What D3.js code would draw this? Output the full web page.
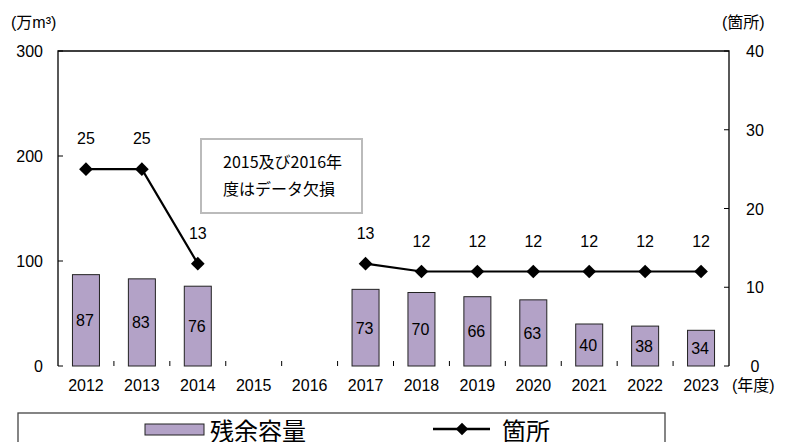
<!DOCTYPE html>
<html>
<head>
<meta charset="utf-8">
<style>
body { margin: 0; background: #fff; }
text { font-family: "Liberation Sans", "Noto Sans CJK JP", sans-serif; fill: #000; }
</style>
</head>
<body>
<script src="https://cdn.jsdelivr.net/npm/d3@7"></script>
<script>
var years = ["2012","2013","2014","2015","2016","2017","2018","2019","2020","2021","2022","2023"];
var capacity = [87, 83, 76, null, null, 73, 70, 66, 63, 40, 38, 34];
var sites = [25, 25, 13, null, null, 13, 12, 12, 12, 12, 12, 12];
var leftTicks = [0, 100, 200, 300];
var rightTicks = [0, 10, 20, 30, 40];

var width = 796, height = 442;
var pLeft = 58, pRight = 729, pTop = 51, pBottom = 366;

var svg = d3.select("body").append("svg")
    .attr("width", width)
    .attr("height", height);

var x = d3.scaleBand().domain(years).range([pLeft, pRight]);
var y = d3.scaleLinear().domain([0, 300]).range([pBottom, pTop]);
var y2 = d3.scaleLinear().domain([0, 40]).range([pBottom, pTop]);

var rows = years.map(function(d, i) { return {year: d, cap: capacity[i], n: sites[i]}; });

function cx(d) { return x(d.year) + x.bandwidth() / 2; }

// frame
svg.append("path")
    .attr("d", "M" + pLeft + "," + pBottom + "V" + pTop + "H" + pRight + "V" + pBottom)
    .attr("fill", "none").attr("stroke", "#000").attr("stroke-width", 1.3);

// left axis ticks, inside
svg.append("g").selectAll("line").data(leftTicks).enter().append("line")
    .attr("x1", pLeft).attr("x2", pLeft + 5)
    .attr("y1", function(d) { return y(d); }).attr("y2", function(d) { return y(d); })
    .attr("stroke", "#000");
svg.append("g").selectAll("text").data(leftTicks).enter().append("text")
    .attr("x", 43).attr("y", function(d) { return y(d) + 6; })
    .attr("text-anchor", "end").style("font-size", "16px")
    .text(function(d) { return d; });

// right axis ticks
svg.append("g").selectAll("line").data(rightTicks).enter().append("line")
    .attr("x1", pRight - 5).attr("x2", pRight)
    .attr("y1", function(d) { return y2(d); }).attr("y2", function(d) { return y2(d); })
    .attr("stroke", "#000");
svg.append("g").selectAll("text").data(rightTicks).enter().append("text")
    .attr("x", 755).attr("y", function(d) { return y2(d) + 6; })
    .attr("text-anchor", "middle").style("font-size", "16px")
    .text(function(d) { return d; });

// unit labels
svg.append("text").attr("x", 11).attr("y", 28).style("font-size", "16px").text("(万m³)");
svg.append("text").attr("x", 722).attr("y", 28).style("font-size", "16px").text("(箇所)");

// bars
var barRows = rows.filter(function(d) { return d.cap != null; });
svg.append("g").selectAll("rect").data(barRows)
    .enter().append("rect")
    .attr("x", function(d) { return cx(d) - 13.5; })
    .attr("width", 27)
    .attr("y", function(d) { return y(d.cap); })
    .attr("height", function(d) { return pBottom - y(d.cap); })
    .attr("fill", "#b3a2c7").attr("stroke", "#222").attr("stroke-width", 1);

svg.append("g").selectAll("text").data(barRows)
    .enter().append("text")
    .attr("x", function(d) { return cx(d) - 1; })
    .attr("y", function(d) { return (y(d.cap) + pBottom) / 2 + 6; })
    .attr("text-anchor", "middle").style("font-size", "16px")
    .text(function(d) { return d.cap; });

// x axis tick marks at band boundaries
svg.append("g").selectAll("line").data(years.slice(1)).enter().append("line")
    .attr("x1", function(d) { return x(d); }).attr("x2", function(d) { return x(d); })
    .attr("y1", pBottom).attr("y2", pBottom - 5)
    .attr("stroke", "#000");
svg.append("g").selectAll("text").data(years).enter().append("text")
    .attr("x", function(d) { return x(d) + x.bandwidth() / 2; })
    .attr("y", 391)
    .attr("text-anchor", "middle").style("font-size", "16px")
    .text(function(d) { return d; });
svg.append("text").attr("x", 732).attr("y", 391).style("font-size", "16px").text("(年度)");

// line
var line = d3.line()
    .defined(function(d) { return d.n != null; })
    .x(cx)
    .y(function(d) { return y2(d.n); });
svg.append("path").datum(rows).attr("d", line)
    .attr("fill", "none").attr("stroke", "#000").attr("stroke-width", 2.2);

var pts = rows.filter(function(d) { return d.n != null; });
svg.append("g").selectAll("path").data(pts).enter().append("path")
    .attr("d", d3.symbol().type(d3.symbolDiamond2).size(120))
    .attr("transform", function(d) { return "translate(" + cx(d) + "," + y2(d.n) + ")"; })
    .attr("fill", "#000");
svg.append("g").selectAll("text").data(pts).enter().append("text")
    .attr("x", cx)
    .attr("y", function(d) { return y2(d.n) - 25; })
    .attr("text-anchor", "middle").style("font-size", "16px")
    .text(function(d) { return d.n; });

// note box
svg.append("rect").attr("x", 201).attr("y", 139).attr("width", 161).attr("height", 74)
    .attr("fill", "#fff").attr("stroke", "#bbb").attr("stroke-width", 2);
svg.append("text").attr("x", 223).attr("y", 168)
    .style("font-size", "16px").style("font-family", "'Noto Sans CJK JP', sans-serif")
    .text("2015及び2016年");
svg.append("text").attr("x", 223).attr("y", 195)
    .style("font-size", "16px").style("font-family", "'Noto Sans CJK JP', sans-serif")
    .text("度はデータ欠損");

// legend
svg.append("rect").attr("x", 18).attr("y", 413).attr("width", 647).attr("height", 40)
    .attr("fill", "#fff").attr("stroke", "#444").attr("stroke-width", 1.3);
svg.append("rect").attr("x", 145).attr("y", 424).attr("width", 59).attr("height", 11)
    .attr("fill", "#b3a2c7").attr("stroke", "#222");
svg.append("text").attr("x", 210).attr("y", 440).style("font-size", "24px").text("残余容量");
svg.append("line").attr("x1", 433).attr("x2", 490).attr("y1", 429).attr("y2", 429)
    .attr("stroke", "#000").attr("stroke-width", 2.5);
svg.append("path").attr("d", d3.symbol().type(d3.symbolDiamond2).size(100))
    .attr("transform", "translate(462,429)").attr("fill", "#000");
svg.append("text").attr("x", 502).attr("y", 440).style("font-size", "24px").text("箇所");
</script>
</body>
</html>
